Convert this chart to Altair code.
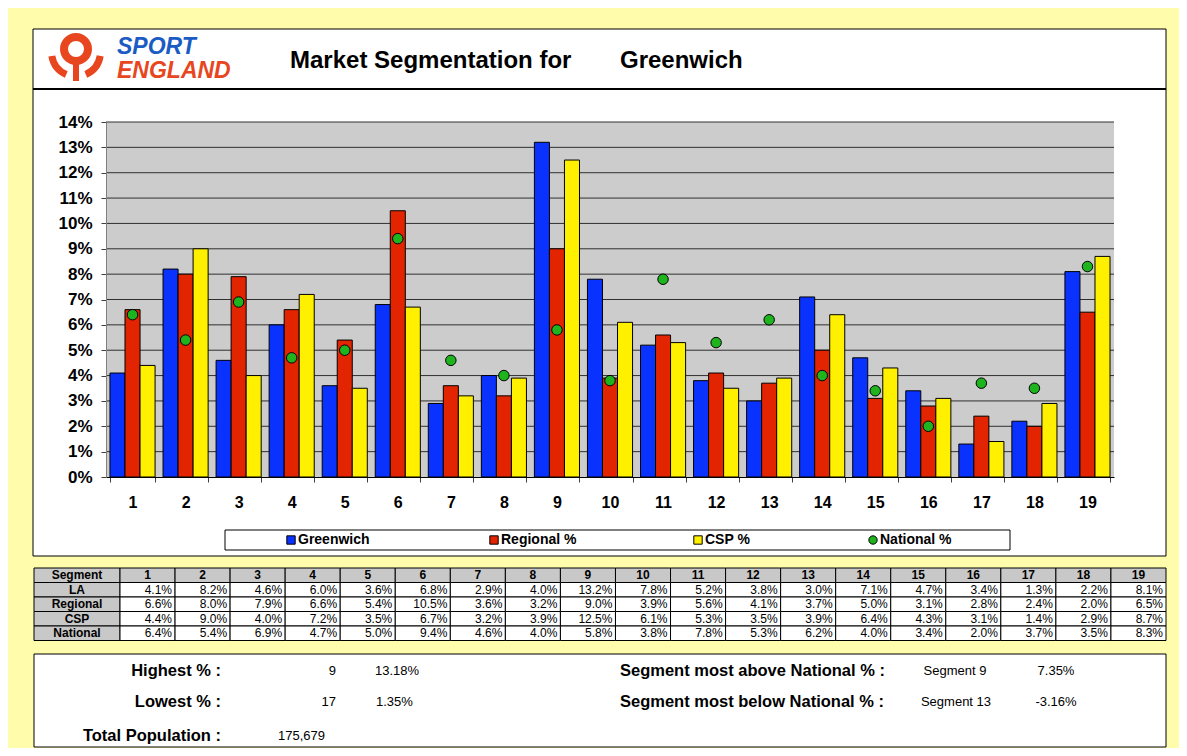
import altair as alt
import pandas as pd

# ---------------- data ----------------
segments = [str(i) for i in range(1, 20)]
la_pct = [4.1, 8.2, 4.6, 6.0, 3.6, 6.8, 2.9, 4.0, 13.2, 7.8, 5.2, 3.8, 3.0, 7.1, 4.7, 3.4, 1.3, 2.2, 8.1]
regional_pct = [6.6, 8.0, 7.9, 6.6, 5.4, 10.5, 3.6, 3.2, 9.0, 3.9, 5.6, 4.1, 3.7, 5.0, 3.1, 2.8, 2.4, 2.0, 6.5]
csp_pct = [4.4, 9.0, 4.0, 7.2, 3.5, 6.7, 3.2, 3.9, 12.5, 6.1, 5.3, 3.5, 3.9, 6.4, 4.3, 3.1, 1.4, 2.9, 8.7]
national_pct = [6.4, 5.4, 6.9, 4.7, 5.0, 9.4, 4.6, 4.0, 5.8, 3.8, 7.8, 5.3, 6.2, 4.0, 3.4, 2.0, 3.7, 3.5, 8.3]
series_names = ["Greenwich", "Regional %", "CSP %", "National %"]
row_labels = ["LA", "Regional", "CSP", "National"]
y_tick_pct = list(range(0, 15))

title_text = "Market Segmentation for"
area_name = "Greenwich"
highest = ["Highest % :", "9", "13.18%"]
lowest = ["Lowest % :", "17", "1.35%"]
population = ["Total Population :", "175,679"]
most_above = ["Segment most above National % :", "Segment 9", "7.35%"]
most_below = ["Segment most below National % :", "Segment 13", "-3.16%"]

# ---------------- style / layout ----------------
FONT = "Liberation Sans"
YELLOW = "#FFFCAC"
series_colors = ["#0A32FF", "#E32400", "#FFF000", "#1EB41E"]
ORANGE = "#E8461E"
LOGO_BLUE = "#1A5BC4"

X0, Y0 = 106, 122          # plot-area origin in page pixels
W, H = 1008, 355           # plot-area size


def px(rx):
    return rx - X0


def py(ry):
    return ry - Y0


one = pd.DataFrame({"k": [0]})


def box(l, t, r, b, fill="white", stroke="black", sw=1):
    return alt.Chart(one).mark_rect(fill=fill, stroke=stroke, strokeWidth=sw).encode(
        x=alt.value(px(l)), x2=alt.value(px(r)), y=alt.value(py(t)), y2=alt.value(py(b)))


def hline(l, r, y, color="black", sw=1):
    return alt.Chart(one).mark_rule(color=color, strokeWidth=sw).encode(
        x=alt.value(px(l)), x2=alt.value(px(r)), y=alt.value(py(y)))


def txt(s, rx, ry, size=13, bold=False, align="left", color="black", italic=False):
    return alt.Chart(one).mark_text(
        text=s, font=FONT, fontSize=size, fontWeight="bold" if bold else "normal",
        fontStyle="italic" if italic else "normal", align=align, baseline="middle", color=color
    ).encode(x=alt.value(px(rx)), y=alt.value(py(ry)))


def arc(cx, cy, r1, r2, t1, t2, color=ORANGE):
    return alt.Chart(one).mark_arc(
        radius=r2, radius2=r1, theta=t1, theta2=t2, color=color
    ).encode(x=alt.value(px(cx)), y=alt.value(py(cy)))


# ---------------- main plot ----------------
bar_rows = []
for name, vals in zip(series_names[:3], [la_pct, regional_pct, csp_pct]):
    for seg, v in zip(segments, vals):
        bar_rows.append({"segment": seg, "series": name, "value": v / 100})
bars_df = pd.DataFrame(bar_rows)
nat_df = pd.DataFrame({"segment": segments, "series": series_names[3],
                       "value": [v / 100 for v in national_pct]})
grid_df = pd.DataFrame({"value": [t / 100 for t in y_tick_pct[1:]]})

xscale = alt.Scale(domain=segments, paddingInner=0.15, paddingOuter=0.075)
yscale = alt.Scale(domain=[0, 0.14], nice=False, zero=True)
color_scale = alt.Scale(domain=series_names, range=series_colors)

xaxis = alt.Axis(title=None, labelAngle=0, labelFont=FONT, labelFontSize=16, labelFontWeight="bold",
                 labelColor="black", labelPadding=12, tickBand="extent", tickSize=5,
                 tickColor="#404040", domainColor="black", grid=False, zindex=1)
yaxis = alt.Axis(title=None, format=".0%", values=[t / 100 for t in y_tick_pct], labelFont=FONT,
                 labelFontSize=17, labelFontWeight="bold", labelColor="black", labelPadding=9,
                 tickSize=5, tickColor="#404040", domainColor="#808080", grid=False, zindex=1)

plot_bg = alt.Chart(one).mark_rect(color="#CCCCCC").encode(
    x=alt.value(0), x2=alt.value(W), y=alt.value(0), y2=alt.value(H))

grid = alt.Chart(grid_df).mark_rule(color="#303030", strokeWidth=1).encode(
    y=alt.Y("value:Q", scale=yscale, axis=yaxis), x=alt.value(0), x2=alt.value(W))

bars = alt.Chart(bars_df).mark_bar(stroke="black", strokeWidth=1).encode(
    x=alt.X("segment:N", scale=xscale, axis=xaxis, sort=segments),
    xOffset=alt.XOffset("series:N", scale=alt.Scale(domain=series_names[:3])),
    y=alt.Y("value:Q", scale=yscale, axis=yaxis),
    fill=alt.Fill("series:N", scale=color_scale, legend=None))

points = alt.Chart(nat_df).mark_point(filled=True, size=110, stroke="black", strokeWidth=1, opacity=1).encode(
    x=alt.X("segment:N", scale=xscale, axis=xaxis, sort=segments),
    y=alt.Y("value:Q", scale=yscale, axis=yaxis),
    fill=alt.Fill("series:N", scale=color_scale, legend=None))

plot = alt.layer(plot_bg, grid, bars, points)

# ---------------- legend ----------------
LEGEND_SYMBOL_X = [291, 494, 698, 873]
legend_df = pd.DataFrame({"name": series_names,
                          "sx": [px(v) for v in LEGEND_SYMBOL_X],
                          "tx": [px(v + 7) for v in LEGEND_SYMBOL_X]})
legend_sym = alt.Chart(legend_df).mark_point(filled=True, size=70, stroke="black", strokeWidth=1, opacity=1).encode(
    x=alt.X("sx:Q", scale=None, axis=None), y=alt.value(py(540)),
    fill=alt.Fill("name:N", scale=color_scale, legend=None),
    shape=alt.Shape("name:N", scale=alt.Scale(domain=series_names,
                                              range=["square", "square", "square", "circle"]), legend=None))
legend_txt = alt.Chart(legend_df).mark_text(font=FONT, fontSize=14, fontWeight="bold", align="left",
                                            baseline="middle", color="black").encode(
    x=alt.X("tx:Q", scale=None, axis=None), y=alt.value(py(540)), text="name:N")

# ---------------- table ----------------
T_L, T_LR, T_R, T_T, T_RH = px(34), px(120), px(1166), py(568), 14.5
T_CW = (T_R - T_LR) / len(segments)

cells_df = pd.DataFrame([{"r": r, "c": c} for r in range(len(row_labels) + 1) for c in range(len(segments) + 1)])
cells = alt.Chart(cells_df).transform_calculate(
    x=f"datum.c == 0 ? {T_L} : {T_LR} + (datum.c - 1) * {T_CW}",
    x2=f"datum.c == 0 ? {T_LR} : {T_LR} + datum.c * {T_CW}",
    y=f"{T_T} + datum.r * {T_RH}",
    y2=f"{T_T} + (datum.r + 1) * {T_RH}",
    f="(datum.r == 0 || datum.c == 0) ? '#C8C8C8' : 'white'",
).mark_rect(stroke="black", strokeWidth=1).encode(
    x=alt.X("x:Q", scale=None, axis=None), x2="x2:Q",
    y=alt.Y("y:Q", scale=None, axis=None), y2="y2:Q",
    fill=alt.Fill("f:N", scale=None))

val_rows = []
for r, vals in enumerate([la_pct, regional_pct, csp_pct, national_pct]):
    for c, v in enumerate(vals):
        val_rows.append({"r": r + 1, "c": c + 1, "txt": f"{v:.1f}%"})
vals_txt = alt.Chart(pd.DataFrame(val_rows)).transform_calculate(
    tx=f"{T_LR} + datum.c * {T_CW} - 3",
    ty=f"{T_T} + (datum.r + 0.5) * {T_RH}",
).mark_text(font=FONT, fontSize=12, align="right", baseline="middle", color="black").encode(
    x=alt.X("tx:Q", scale=None, axis=None), y=alt.Y("ty:Q", scale=None, axis=None), text="txt:N")

head_df = pd.DataFrame({"c": list(range(1, len(segments) + 1)), "txt": segments})
head_txt = alt.Chart(head_df).transform_calculate(
    tx=f"{T_LR} + (datum.c - 0.5) * {T_CW}",
    ty=f"{T_T} + 0.5 * {T_RH}",
).mark_text(font=FONT, fontSize=12, fontWeight="bold", align="center", baseline="middle", color="black").encode(
    x=alt.X("tx:Q", scale=None, axis=None), y=alt.Y("ty:Q", scale=None, axis=None), text="txt:N")

lab_df = pd.DataFrame({"r": list(range(len(row_labels) + 1)), "txt": ["Segment"] + row_labels})
lab_txt = alt.Chart(lab_df).transform_calculate(
    tx=f"({T_L} + {T_LR}) / 2",
    ty=f"{T_T} + (datum.r + 0.5) * {T_RH}",
).mark_text(font=FONT, fontSize=12, fontWeight="bold", align="center", baseline="middle", color="black").encode(
    x=alt.X("tx:Q", scale=None, axis=None), y=alt.Y("ty:Q", scale=None, axis=None), text="txt:N")

# ---------------- frames, title, logo, summary ----------------
frames = [
    box(33, 29, 1166, 556),
    hline(33, 1166, 89, sw=2),
    box(225, 530, 1010, 550),
    box(34, 654, 1166, 747),
]

logo = [
    arc(76, 49, 8, 16, 0, 6.2832),
    alt.Chart(one).mark_rect(color=ORANGE).encode(
        x=alt.value(px(73)), x2=alt.value(px(79)), y=alt.value(py(62)), y2=alt.value(py(81))),
    arc(76, 52, 21, 28, 3.55, 4.55),
    arc(76, 52, 21, 28, 1.73, 2.73),
    txt("SPORT", 117, 47, size=23, bold=True, italic=True, color=LOGO_BLUE),
    txt("ENGLAND", 117, 70.5, size=23, bold=True, italic=True, color=ORANGE),
]

titles = [
    txt(title_text, 290, 61, size=24, bold=True),
    txt(area_name, 620, 61, size=24, bold=True),
]

summary = [
    txt(highest[0], 221, 671, size=16.5, bold=True, align="right"),
    txt(highest[1], 336, 671, size=13, align="right"),
    txt(highest[2], 375, 671, size=13),
    txt(lowest[0], 221, 702, size=16.5, bold=True, align="right"),
    txt(lowest[1], 336, 702, size=13, align="right"),
    txt(lowest[2], 376, 702, size=13),
    txt(population[0], 221, 736, size=16.5, bold=True, align="right"),
    txt(population[1], 278, 736, size=13),
    txt(most_above[0], 620, 671, size=16.5, bold=True),
    txt(most_above[1], 955, 671, size=13, align="center"),
    txt(most_above[2], 1056, 671, size=13, align="center"),
    txt(most_below[0], 620, 702, size=16.5, bold=True),
    txt(most_below[1], 956, 702, size=13, align="center"),
    txt(most_below[2], 1056, 702, size=13, align="center"),
]

chart = alt.layer(
    *frames, *logo, *titles, plot, legend_sym, legend_txt,
    cells, vals_txt, head_txt, lab_txt, *summary
).resolve_scale(
    x="independent", y="independent"
).properties(
    width=W, height=H,
    padding={"left": X0 - 8, "top": Y0 - 8, "right": 1179 - (X0 + W), "bottom": 748 - (Y0 + H)},
    autosize=alt.AutoSizeParams(type="none"),
    background=YELLOW,
).configure_view(stroke=None)

chart.save("out.html", embed_options={"renderer": "svg", "actions": False})
